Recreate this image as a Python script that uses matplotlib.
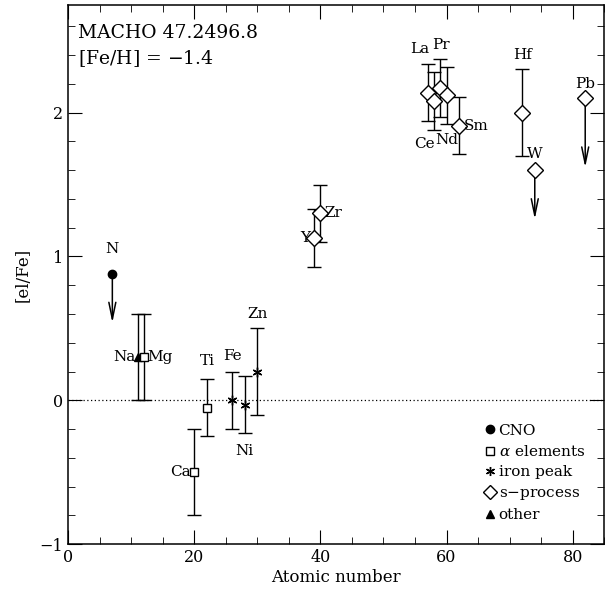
import matplotlib
matplotlib.use('Agg')
import matplotlib.pyplot as plt
from matplotlib.lines import Line2D
from matplotlib.ticker import MultipleLocator

plt.rcParams['font.family'] = ['DejaVu Serif']
plt.rcParams['mathtext.fontset'] = 'dejavuserif'

# element, Z, [el/Fe], error, group, upper limit
elements = ['N', 'Na', 'Mg', 'Ca', 'Ti', 'Fe', 'Ni', 'Zn', 'Y', 'Zr',
            'La', 'Ce', 'Pr', 'Nd', 'Sm', 'Hf', 'W', 'Pb']
Z = [7, 11, 12, 20, 22, 26, 28, 30, 39, 40, 57, 58, 59, 60, 62, 72, 74, 82]
abund = [0.88, 0.30, 0.30, -0.50, -0.05, 0.00, -0.03, 0.20, 1.13, 1.30,
         2.14, 2.08, 2.17, 2.12, 1.91, 2.00, 1.60, 2.10]
err = [0, 0.30, 0.30, 0.30, 0.20, 0.20, 0.20, 0.30, 0.20, 0.20,
       0.20, 0.20, 0.20, 0.20, 0.20, 0.30, 0, 0]
group = ['cno', 'other', 'alpha', 'alpha', 'alpha', 'iron', 'iron', 'iron',
         's', 's', 's', 's', 's', 's', 's', 's', 's', 's']
limit = [True, False, False, False, False, False, False, False, False, False,
         False, False, False, False, False, False, True, True]
arrow_len = [0.36, 0, 0, 0, 0, 0, 0, 0, 0, 0, 0, 0, 0, 0, 0, 0, 0.36, 0.5]

# label positions (x, y, ha)
label_pos = {
    'N': (7, 1.05, 'center'), 'Na': (10.6, 0.30, 'right'), 'Mg': (12.6, 0.30, 'left'),
    'Ca': (19.4, -0.50, 'right'), 'Ti': (22, 0.27, 'center'), 'Fe': (26, 0.31, 'center'),
    'Ni': (28, -0.35, 'center'), 'Zn': (30, 0.60, 'center'), 'Y': (38.4, 1.13, 'right'),
    'Zr': (40.7, 1.30, 'left'), 'La': (55.8, 2.44, 'center'), 'Pr': (59.2, 2.47, 'center'),
    'Ce': (56.5, 1.78, 'center'), 'Nd': (60.0, 1.81, 'center'), 'Sm': (62.7, 1.91, 'left'),
    'Hf': (72, 2.40, 'center'), 'W': (74, 1.71, 'center'), 'Pb': (82, 2.20, 'center'),
}

styles = {
    'cno': dict(marker='o', mfc='black', ms=6),
    'alpha': dict(marker='s', mfc='white', ms=6),
    'iron': dict(marker=(6, 2, 0), mfc='black', ms=7),
    's': dict(marker='D', mfc='white', ms=8.5),
    'other': dict(marker='^', mfc='black', ms=6),
}
legend_ms = {'cno': 6, 'alpha': 5.5, 'iron': 6.5, 's': 7, 'other': 5.5}
legend_names = [('cno', 'CNO'), ('alpha', r'$\alpha$ elements'), ('iron', 'iron peak'),
                ('s', 's$-$process'), ('other', 'other')]

fig = plt.figure(figsize=(6.09, 5.96), dpi=100)
ax = fig.add_axes([0.112, 0.087, 0.88, 0.905])

ax.axhline(0, color='black', lw=0.9, ls=(0, (1, 2)))

for i, el in enumerate(elements):
    st = styles[group[i]]
    if err[i] > 0:
        ax.errorbar(Z[i], abund[i], yerr=err[i], fmt='none', ecolor='black',
                    elinewidth=1, capsize=5, capthick=1, zorder=2)
    if limit[i]:
        ax.annotate('', xy=(Z[i], abund[i] - arrow_len[i]), xytext=(Z[i], abund[i]),
                    arrowprops=dict(arrowstyle='->,head_length=1.2,head_width=0.25',
                                    color='black', lw=1.1))
    ax.plot(Z[i], abund[i], linestyle='none', marker=st['marker'], ms=st['ms'],
            mfc=st['mfc'], mec='black', mew=1, zorder=3)
    lx, ly, ha = label_pos[el]
    ax.text(lx, ly, el, ha=ha, va='center', fontsize=11)

ax.text(0.019, 0.948, 'MACHO 47.2496.8', transform=ax.transAxes, fontsize=13.5, va='center')
ax.text(0.019, 0.900, '[Fe/H] = $-$1.4', transform=ax.transAxes, fontsize=13.5, va='center')

handles = [Line2D([], [], linestyle='none', marker=styles[g]['marker'],
                  ms=legend_ms[g], mfc=styles[g]['mfc'], mec='black', mew=1)
           for g, _ in legend_names]
ax.legend(handles, [n for _, n in legend_names], loc='lower right', frameon=False,
          handlelength=0.6, handletextpad=0.25, labelspacing=0.42, fontsize=11,
          bbox_to_anchor=(0.99, 0.015))

ax.set_xlim(0, 85)
ax.set_ylim(-1, 2.75)
ax.xaxis.set_major_locator(MultipleLocator(20))
ax.xaxis.set_minor_locator(MultipleLocator(5))
ax.yaxis.set_major_locator(MultipleLocator(1))
ax.yaxis.set_minor_locator(MultipleLocator(0.2))
ax.tick_params(which='both', direction='in', top=True, right=True, labelsize=11.5)
ax.tick_params(which='major', length=10)
ax.tick_params(which='minor', length=5)
for s in ax.spines.values():
    s.set_linewidth(1.1)
ax.set_xlabel('Atomic number', fontsize=12, labelpad=2)
ax.set_ylabel('[el/Fe]', fontsize=12, labelpad=6)

fig.savefig('out.png', dpi=100)
